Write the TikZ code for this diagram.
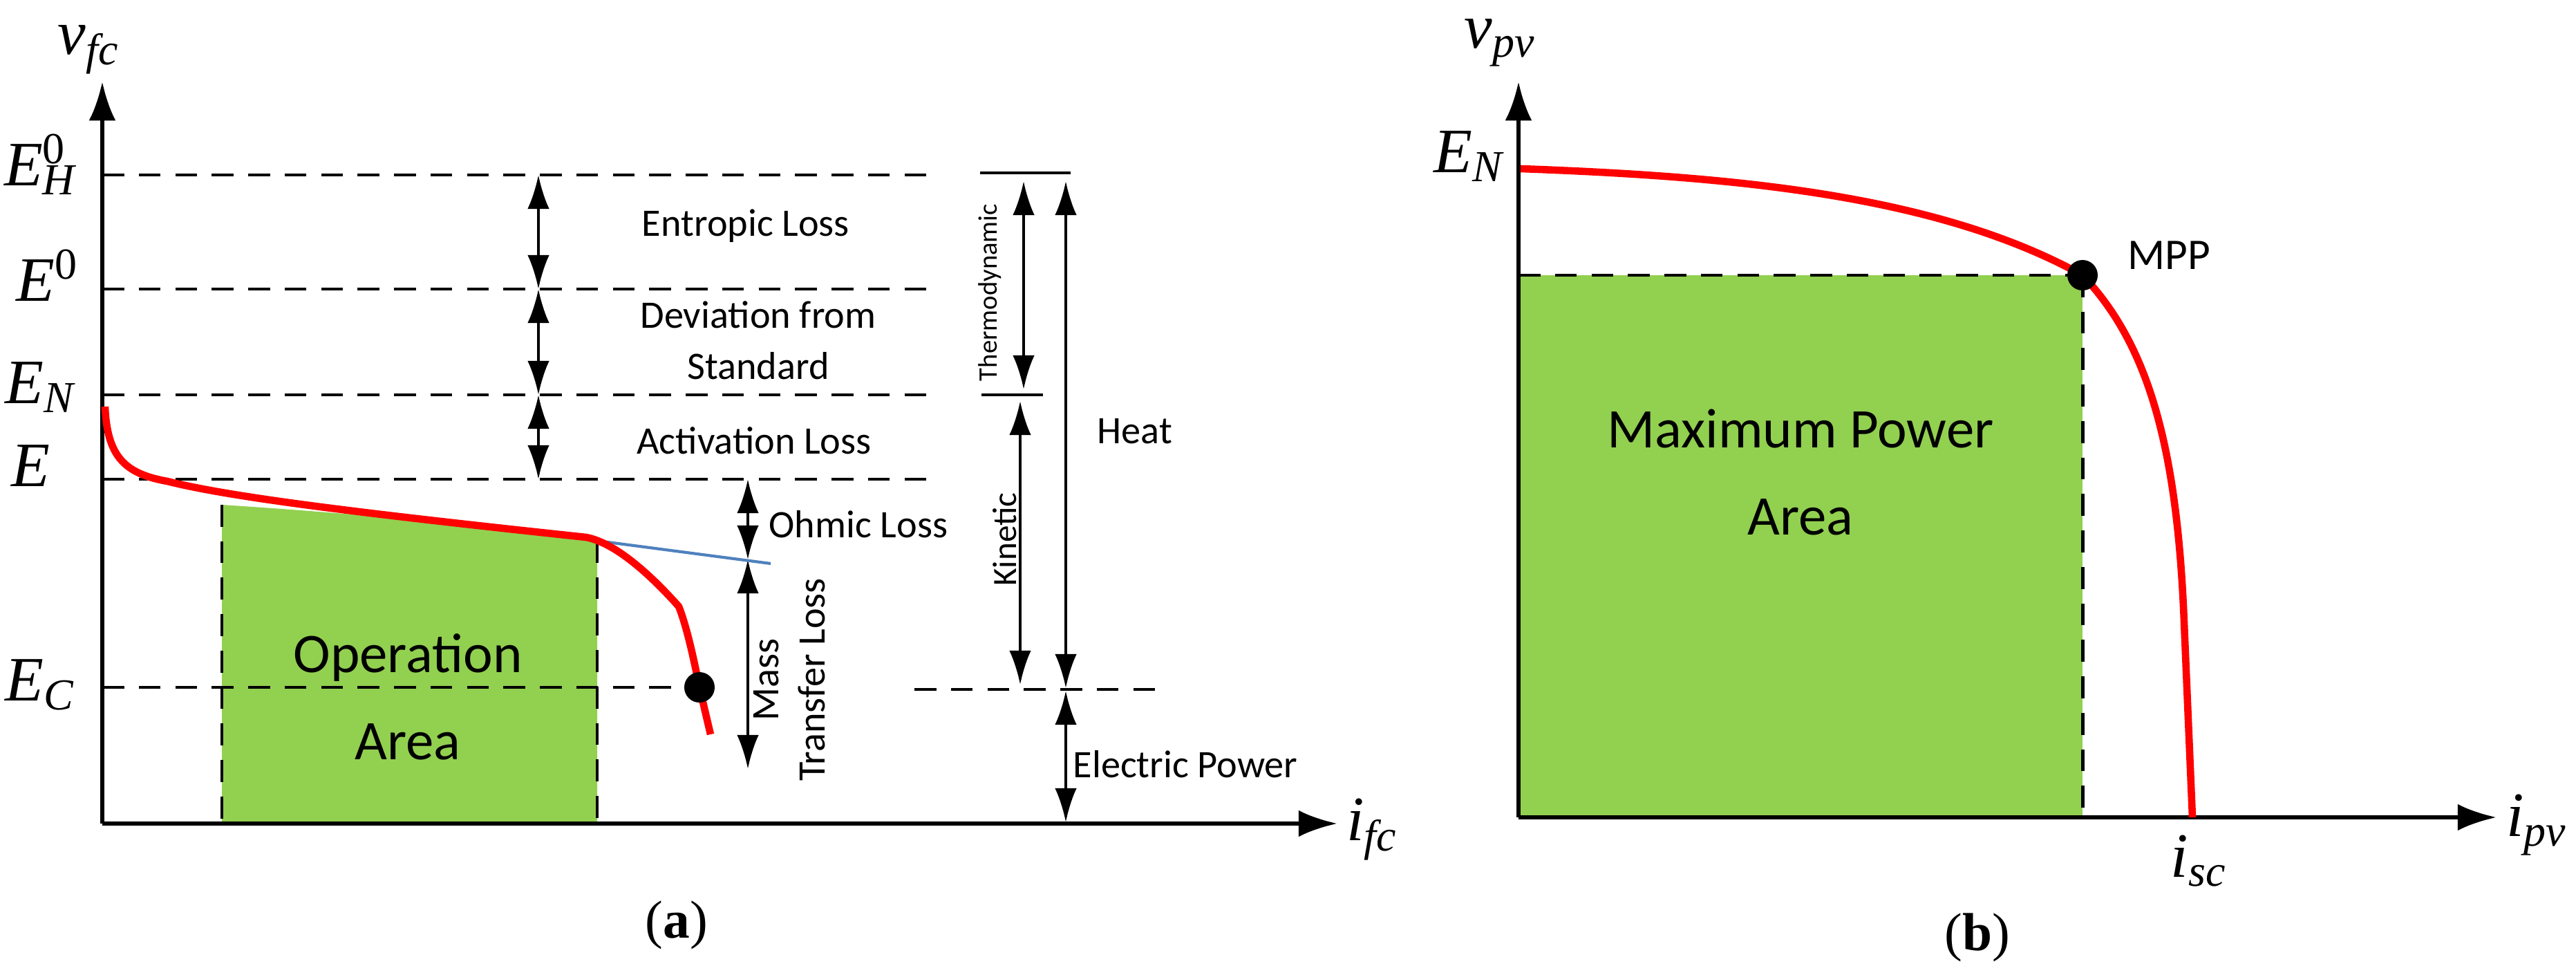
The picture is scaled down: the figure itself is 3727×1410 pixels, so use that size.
\documentclass[tikz,border=0pt]{standalone}
\usepackage{fontspec}
\setmainfont{Carlito}
\newfontfamily\tms{Liberation Serif}
\usetikzlibrary{arrows.meta}
\newcommand{\ml}[3]{{\tms\itshape #1\rlap{\textsuperscript{\upshape #2}}\textsubscript{#3}}}
\definecolor{areagreen}{RGB}{146,208,80}
\definecolor{tanblue}{RGB}{79,129,189}
\tikzset{
  axis/.style={line width=1.8pt,-{Latex[length=16pt,width=11pt]}},
  lvl/.style={dashed,line width=1.4pt,dash pattern=on 9pt off 6pt},
  dbl/.style={line width=1.2pt,{Latex[length=14pt,width=9pt]}-{Latex[length=14pt,width=9pt]}},
  curve/.style={red,line width=3pt},
  txt/.style={font=\fontsize{16}{19}\selectfont,align=center,inner sep=0pt},
  big/.style={font=\fontsize{23}{30}\selectfont,align=center,inner sep=0pt},
  mth/.style={font=\fontsize{26}{28}\selectfont,inner sep=0pt},
  captxt/.style={font=\tms\fontsize{22}{24}\selectfont,inner sep=0pt},
}
\begin{document}
\begin{tikzpicture}[x=0.01cm,y=-0.01cm]
\useasboundingbox (0,0) rectangle (3727,1410);

% ---------- (a) fuel cell ----------
\fill[areagreen] (321,730) .. controls (550,745) and (750,765) .. (864,782) -- (864,1191) -- (321,1191) -- cycle;
\draw[lvl] (321,730) -- (321,1191);
\draw[lvl] (864,782) -- (864,1191);

\coordinate (a0) at (148,1191);
\coordinate (ay) at (148,118);
\coordinate (ax) at (1935,1191);
\draw[axis] (a0) -- (ay);
\draw[axis] (a0) -- (ax);
\node[mth] (vfc) at (128,72) {\ml{v}{}{fc}};
\node[mth] (ifc) at (1985,1200) {\ml{i}{}{fc}};

\foreach \y/\n in {253/eh,418/eo,571/en,693/ee} {
  \coordinate (\n l) at (148,\y);
  \coordinate (\n r) at (1345,\y);
  \draw[lvl] (\n l) -- (\n r);
}
\coordinate (ecl) at (148,994);
\coordinate (dot) at (1012,994);
\draw[lvl] (ecl) -- (dot);

\node[mth] (leh) at (58,238) {\ml{E}{0}{H}};
\node[mth] (leo) at (52,405) {\ml{E}{0}{}};
\node[mth] (len) at (58,560) {\ml{E}{}{N}};
\node[mth] (lee) at (45,680) {\ml{E}{}{}};
\node[mth] (lec) at (58,990) {\ml{E}{}{C}};

\coordinate (d1) at (779,253);
\coordinate (d2) at (779,418);
\coordinate (d3) at (779,571);
\coordinate (d4) at (779,693);
\draw[dbl] (d1) -- (d2);
\draw[dbl] (d2) -- (d3);
\draw[dbl] (d3) -- (d4);
\node[txt] (t1) at (1079,327) {Entropic Loss};
\node[txt] (t2) at (1097,492) {Deviation from\\[2pt]Standard};
\node[txt] (t3) at (1091,637) {Activation Loss};

\coordinate (o1) at (1082,693);
\coordinate (o2) at (1082,809);
\coordinate (o3) at (1082,1112);
\draw[dbl] (o1) -- (o2);
\draw[dbl] (o2) -- (o3);
\node[txt,anchor=west] (t4) at (1112,758) {Ohmic Loss};
\node[txt,rotate=90] (t5) at (1142,983) {Mass\\Transfer Loss};

\coordinate (b1) at (818,776);
\coordinate (b2) at (1115,815);
\draw[tanblue,line width=1.2pt] (b1) -- (b2);

\draw[curve] (152,588) .. controls (155,660) and (180,685) .. (242,696)
  .. controls (330,718) and (500,740) .. (848,777)
  .. controls (890,785) and (940,830) .. (982,877)
  .. controls (995,910) and (1005,960) .. (1012,994)
  -- (1028,1062);
\fill (dot) circle (22);

\node[big] (op) at (590,1008) {Operation\\[6pt]Area};

% right-hand brackets
\coordinate (h0) at (1418,250);
\coordinate (h1) at (1549,250);
\draw[line width=1.2pt] (h0) -- (h1);
\coordinate (k0) at (1420,571);
\coordinate (k1) at (1509,571);
\draw[line width=1.2pt] (k0) -- (k1);
\coordinate (th1) at (1481,262);
\coordinate (th2) at (1481,563);
\draw[dbl] (th1) -- (th2);
\node[txt,font=\fontsize{11}{13}\selectfont,rotate=90] (tth) at (1432,423) {Thermodynamic};
\coordinate (ki1) at (1476,580);
\coordinate (ki2) at (1476,990);
\draw[dbl] (ki1) -- (ki2);
\node[txt,font=\fontsize{14}{16}\selectfont,rotate=90] (tki) at (1454,780) {Kinetic};
\coordinate (he1) at (1542,262);
\coordinate (he2) at (1542,995);
\draw[dbl] (he1) -- (he2);
\node[txt] (the) at (1642,624) {Heat};
\coordinate (p0) at (1323,997);
\coordinate (p1) at (1691,997);
\draw[lvl] (p0) -- (p1);
\coordinate (ep1) at (1542,999);
\coordinate (ep2) at (1542,1189);
\draw[dbl] (ep1) -- (ep2);
\node[txt,anchor=west] (tep) at (1552,1105) {Electric Power};

\node[captxt] (ca) at (979,1338) {(\textbf{a})};

% ---------- (b) PV ----------
\coordinate (pv0) at (2197,1182);
\coordinate (pvy) at (2197,118);
\coordinate (pvx) at (3612,1182);
\coordinate (mpp) at (3013,398);
\fill[areagreen] (2197,398) rectangle (3013,1182);
\draw[lvl] (2197,398) -- (mpp);
\draw[lvl] (mpp) -- (3013,1182);
\draw[axis] (pv0) -- (pvy);
\draw[axis] (pv0) -- (pvx);
\node[mth] (vpv) at (2170,62) {\ml{v}{}{pv}};
\node[mth] (ipv) at (3670,1193) {\ml{i}{}{pv}};
\node[mth] (enb) at (2125,226) {\ml{E}{}{N}};
\node[mth] (isc) at (3181,1245) {\ml{i}{}{sc}};

\draw[curve] (2200,244) .. controls (2500,255) and (2800,280) .. (mpp)
  .. controls (3110,500) and (3150,650) .. (3160,900)
  -- (3172,1182);
\fill (mpp) circle (22);
\node[txt,font=\fontsize{18}{20}\selectfont] (tmpp) at (3138,369) {MPP};
\node[big] (tmax) at (2605,683) {Maximum Power\\[6pt]Area};

\node[captxt] (cb) at (2861,1356) {(\textbf{b})};
\end{tikzpicture}
\end{document}
